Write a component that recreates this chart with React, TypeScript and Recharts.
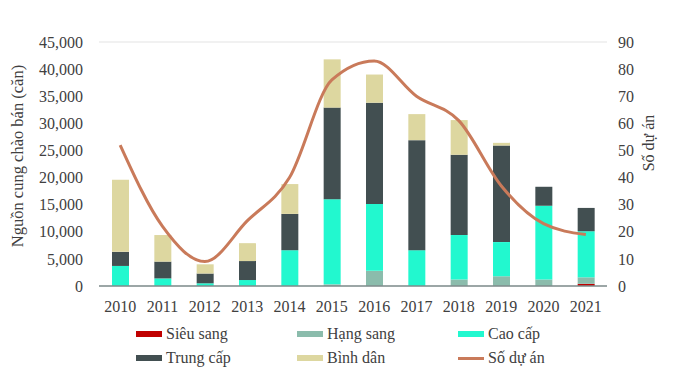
import React from 'react';
import {
  ComposedChart,
  Bar,
  Line,
  XAxis,
  YAxis,
  CartesianGrid,
  Legend,
} from 'recharts';

const YEARS = ['2010', '2011', '2012', '2013', '2014', '2015', '2016', '2017', '2018', '2019', '2020', '2021'];
const SIEU_SANG = [0, 0, 0, 0, 0, 0, 0, 0, 0, 0, 0, 400];
const HANG_SANG = [0, 0, 0, 0, 0, 300, 2800, 0, 1200, 1800, 1200, 1200];
const CAO_CAP = [3700, 1400, 500, 1100, 6600, 15700, 12300, 6600, 8200, 6300, 13600, 8500];
const TRUNG_CAP = [2600, 3100, 1800, 3500, 6700, 16900, 18700, 20300, 14800, 17800, 3500, 4300];
const BINH_DAN = [13300, 4900, 1700, 3300, 5500, 8900, 5200, 4800, 6400, 500, 0, 0];
const SO_DU_AN = [52, 22, 9, 24, 40, 76, 83, 70, 61, 37, 23, 19];

const LEFT_TICKS = [0, 5000, 10000, 15000, 20000, 25000, 30000, 35000, 40000, 45000];
const RIGHT_TICKS = [0, 10, 20, 30, 40, 50, 60, 70, 80, 90];

const FONT = '"Liberation Serif", "Times New Roman", serif';
const TEXT = '#404040';

const SERIES = [
  { key: 'sieuSang', name: 'Siêu sang', color: '#C00000', type: 'bar' },
  { key: 'hangSang', name: 'Hạng sang', color: '#8BBCAC', type: 'bar' },
  { key: 'caoCap', name: 'Cao cấp', color: '#22F8CF', type: 'bar' },
  { key: 'trungCap', name: 'Trung cấp', color: '#424F51', type: 'bar' },
  { key: 'binhDan', name: 'Bình dân', color: '#DDD7A0', type: 'bar' },
  { key: 'soDuAn', name: 'Số dự án', color: '#C97A5A', type: 'line' },
];

const data = YEARS.map((year, i) => ({
  year,
  sieuSang: SIEU_SANG[i],
  hangSang: HANG_SANG[i],
  caoCap: CAO_CAP[i],
  trungCap: TRUNG_CAP[i],
  binhDan: BINH_DAN[i],
  soDuAn: SO_DU_AN[i],
}));

const LEGEND_COLS = [136, 297, 458];

function renderLegend() {
  return (
    <div style={{ position: 'relative', width: 680, height: 48, fontFamily: FONT, fontSize: 16, color: TEXT }}>
      {SERIES.map((s, i) => {
        const col = i % 3;
        const row = Math.floor(i / 3);
        return (
          <div
            key={s.key}
            style={{
              position: 'absolute',
              left: LEGEND_COLS[col],
              top: row * 24,
              height: 24,
              display: 'flex',
              alignItems: 'center',
              whiteSpace: 'nowrap',
            }}
          >
            <span
              style={{
                display: 'inline-block',
                width: 26,
                height: s.type === 'line' ? 3 : 6,
                background: s.color,
                marginRight: 4,
              }}
            />
            {s.name}
          </div>
        );
      })}
    </div>
  );
}

export default function App() {
  return (
    <div style={{ position: 'fixed', left: 0, top: 0, width: 680, height: 379, background: '#fff', fontFamily: FONT }}>
      <ComposedChart
        width={680}
        height={379}
        data={data}
        margin={{ top: 42, right: 0, bottom: 63, left: 0 }}
        barCategoryGap={0}
      >
        <CartesianGrid vertical={false} stroke="#e3e3e3" strokeWidth={1} />
        <XAxis
          dataKey="year"
          axisLine={{ stroke: '#7f8c8c', strokeWidth: 1.5 }}
          tickLine={false}
          tickMargin={9}
          height={30}
          tick={{ fontFamily: FONT, fontSize: 16, fill: TEXT }}
        />
        <YAxis
          yAxisId="left"
          width={99}
          domain={[0, 45000]}
          ticks={LEFT_TICKS}
          interval={0}
          axisLine={false}
          tickLine={false}
          tickSize={0}
          tickMargin={16}
          tickFormatter={(v: number) => v.toLocaleString('en-US')}
          tick={{ fontFamily: FONT, fontSize: 16, fill: TEXT }}
          label={{
            content: () => (
              <text
                x={17}
                y={156}
                transform="rotate(-90 17 156)"
                textAnchor="middle"
                dominantBaseline="central"
                style={{ fontFamily: FONT, fontSize: 16.5, fill: TEXT }}
              >
                Nguồn cung chào bán (căn)
              </text>
            ),
          }}
        />
        <YAxis
          yAxisId="right"
          orientation="right"
          width={73}
          domain={[0, 90]}
          ticks={RIGHT_TICKS}
          interval={0}
          axisLine={false}
          tickLine={false}
          tickSize={0}
          tickMargin={11}
          tick={{ fontFamily: FONT, fontSize: 16, fill: TEXT }}
          label={{
            content: () => (
              <text
                x={648}
                y={143}
                transform="rotate(-90 648 143)"
                textAnchor="middle"
                dominantBaseline="central"
                style={{ fontFamily: FONT, fontSize: 16, fill: TEXT }}
              >
                Số dự án
              </text>
            ),
          }}
        />
        <Legend
          layout="horizontal"
          verticalAlign="middle"
          align="center"
          content={renderLegend}
          wrapperStyle={{ position: 'absolute', left: 0, top: 322, width: 680, height: 48 }}
        />
        {SERIES.filter((s) => s.type === 'bar').map((s) => (
          <Bar
            key={s.key}
            yAxisId="left"
            dataKey={s.key}
            name={s.name}
            stackId="a"
            fill={s.color}
            barSize={17}
            isAnimationActive={false}
          />
        ))}
        <Line
          yAxisId="right"
          type="monotone"
          dataKey="soDuAn"
          name="Số dự án"
          stroke="#C97A5A"
          strokeWidth={3}
          dot={false}
          isAnimationActive={false}
        />
      </ComposedChart>
    </div>
  );
}
